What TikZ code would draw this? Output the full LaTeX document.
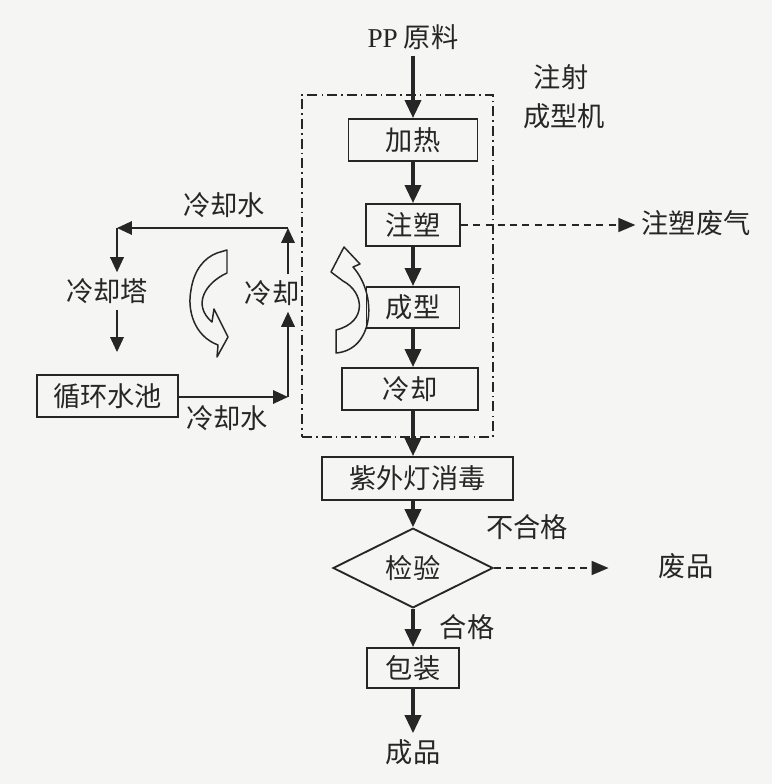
\documentclass[tikz,border=0pt]{standalone}
\usepackage{fontspec}
\setmainfont{Liberation Serif}
\newfontfamily\cjk{Noto Sans CJK SC}
\usetikzlibrary{arrows.meta,shapes.geometric}
\definecolor{inkgray}{RGB}{38,38,38}
\definecolor{paper}{RGB}{245,245,243}

\tikzset{
  txt/.style={font=\cjk\fontsize{15.5pt}{18pt}\selectfont},
  stepbox/.style={txt, draw, line width=1.05pt, minimum height=0.84cm, inner sep=0pt},
  decide/.style={txt, diamond, draw, line width=1.05pt, minimum width=3.2cm, minimum height=1.44cm, inner sep=0pt},
  machine/.style={draw, line width=0.9pt, dash pattern=on 5.7pt off 2.3pt on 0.9pt off 2.3pt},
  flow/.style={line width=2pt, -{Triangle[length=0.36cm,width=0.32cm]}},
  waterline/.style={line width=1pt, -{Triangle[length=0.3cm,width=0.27cm]}},
  waste/.style={line width=1pt, dash pattern=on 4pt off 3pt, -{Triangle[length=0.34cm,width=0.28cm]}},
  turn/.style={draw, line width=0.85pt, line join=round}
}

\begin{document}
\begin{tikzpicture}[x=0.02cm, y=-0.02cm, color=inkgray]
  \useasboundingbox (0,0) rectangle (772,784);
  \fill[paper] (0,0) rectangle (772,784);

  % injection moulding machine
  \node[machine, minimum width=3.82cm, minimum height=6.84cm] (mach) at (397.5,266) {};
  \node[txt] (inj) at (561,77) {注射};
  \node[txt] (injm) at (564,116) {成型机};

  % curved arrows
  \draw[turn] (217,253) -- (227,250) -- (227,273)
    .. controls (205,283) and (192,305) .. (212,322) -- (214,309) -- (228,337)
    -- (217,357) -- (218,345) .. controls (194,336) and (187,310) .. (191,290)
    .. controls (194,270) and (204,258) .. (217,253) -- cycle;
  \draw[turn] (344,247) -- (360,264) -- (353,267)
    .. controls (378,295) and (374,350) .. (336,353) -- (336,330)
    .. controls (368,322) and (364,292) .. (343,281) -- (331,272) -- cycle;

  % main line
  \node[txt] (pp) at (413,37) {{\rmfamily PP} 原料};
  \node[stepbox, minimum width=2.58cm] (heat) at (413,140) {加热};
  \node[stepbox, minimum width=1.88cm] (inject) at (413,225) {注塑};
  \node[stepbox, minimum width=1.86cm, minimum height=0.82cm] (form) at (413,307.5) {成型};
  \node[stepbox, minimum width=2.72cm] (cool) at (410,389) {冷却};
  \node[stepbox, minimum width=3.82cm, minimum height=0.86cm] (uv) at (417.5,478.5) {紫外灯消毒};
  \node[decide] (check) at (413,568) {检验};
  \node[stepbox, minimum width=1.84cm, minimum height=0.8cm] (pack) at (413,668) {包装};
  \node[txt] (prod) at (413,752) {成品};
  \node[txt] (fail) at (527,527) {不合格};
  \node[txt] (pass) at (467,627) {合格};
  \node[txt] (scrap) at (686,566) {废品};
  \node[txt] (gas) at (696,223) {注塑废气};

  \draw[flow] (pp) -- (heat);
  \draw[flow] (heat) -- (inject);
  \draw[flow] (inject) -- (form);
  \draw[flow] (form) -- (form |- cool.north);
  \draw[flow] (cool.south -| form) -- (uv.north -| form);
  \draw[flow] (uv.south -| form) -- (check);
  \draw[flow] (check) -- (pack);
  \draw[flow] (pack) -- (prod);
  \draw[waste] (inject.east) -- (inject.east -| gas.west);
  \draw[waste, shorten >=0.88cm] (check.east) -- (scrap.west |- check.east);

  % cooling water loop
  \node[stepbox, minimum width=2.82cm] (pool) at (107.5,396) {循环水池};
  \node[txt] (tower) at (107,291) {冷却塔};
  \node[txt] (coolr) at (272,293) {冷却};
  \node[txt] (wtop) at (224,205) {冷却水};
  \node[txt] (wbot) at (227,418) {冷却水};
  \coordinate (tr) at (288,228);
  \coordinate (tl) at (117,228);
  \coordinate (br) at (288,397);

  \draw[waterline] (tr) -- (tl);
  \draw[waterline] (tl) -- (tl |- tower.north);
  \draw[waterline, shorten >=0.44cm] (tl |- tower.south) -- (tl |- pool.north);
  \draw[waterline] (pool.east |- br) -- (br);
  \draw[waterline] (br) -- (br |- coolr.south);
  \draw[waterline] (br |- coolr.north) -- (tr);
\end{tikzpicture}
\end{document}
